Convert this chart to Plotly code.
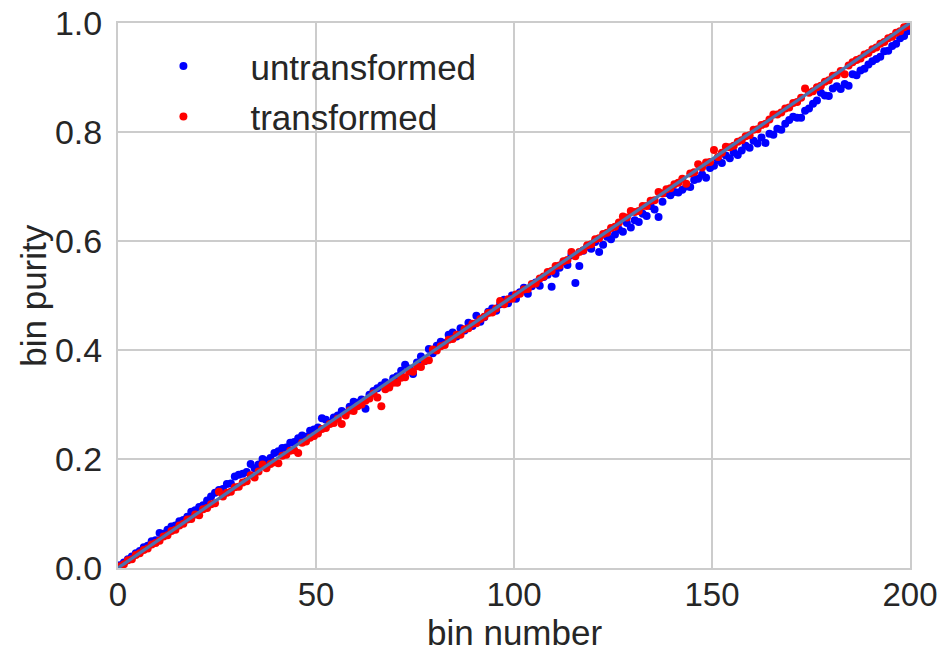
import plotly.graph_objects as go

# bin centres 0.5 ... 199.5
bins = [i + 0.5 for i in range(200)]

untransformed = [
    0.005, 0.010, 0.016, 0.021, 0.027, 0.031, 0.038, 0.041, 0.049, 0.051,
    0.064, 0.063, 0.070, 0.076, 0.078, 0.086, 0.088, 0.094, 0.103, 0.106,
    0.112, 0.115, 0.124, 0.131, 0.138, 0.143, 0.145, 0.154, 0.155, 0.168,
    0.171, 0.173, 0.176, 0.191, 0.183, 0.190, 0.200, 0.197, 0.202, 0.211,
    0.214, 0.220, 0.221, 0.230, 0.231, 0.238, 0.243, 0.241, 0.252, 0.254,
    0.258, 0.275, 0.272, 0.266, 0.276, 0.280, 0.288, 0.285, 0.296, 0.305,
    0.303, 0.309, 0.292, 0.318, 0.325, 0.330, 0.335, 0.341, 0.337, 0.348,
    0.352, 0.362, 0.373, 0.366, 0.356, 0.377, 0.388, 0.380, 0.402, 0.394,
    0.408, 0.415, 0.413, 0.428, 0.432, 0.425, 0.440, 0.436, 0.450, 0.444,
    0.463, 0.452, 0.460, 0.470, 0.476, 0.472, 0.484, 0.492, 0.486, 0.500,
    0.494, 0.506, 0.514, 0.503, 0.517, 0.524, 0.518, 0.534, 0.538, 0.516,
    0.540, 0.551, 0.562, 0.556, 0.574, 0.523, 0.554, 0.582, 0.590, 0.586,
    0.598, 0.580, 0.593, 0.608, 0.603, 0.612, 0.621, 0.617, 0.633, 0.625,
    0.638, 0.635, 0.650, 0.646, 0.664, 0.658, 0.644, 0.672, 0.688, 0.684,
    0.690, 0.689, 0.694, 0.700, 0.699, 0.712, 0.714, 0.722, 0.716, 0.734,
    0.738, 0.748, 0.743, 0.757, 0.752, 0.763, 0.758, 0.766, 0.775, 0.771,
    0.784, 0.779, 0.790, 0.780, 0.797, 0.795, 0.806, 0.804, 0.815, 0.822,
    0.828, 0.826, 0.826, 0.839, 0.843, 0.852, 0.858, 0.872, 0.867, 0.866,
    0.880, 0.884, 0.879, 0.888, 0.885, 0.906, 0.904, 0.913, 0.916, 0.924,
    0.930, 0.934, 0.938, 0.948, 0.949, 0.958, 0.962, 0.972, 0.976, 0.985,
]

transformed = [
    0.003, 0.007, 0.014, 0.016, 0.024, 0.027, 0.033, 0.036, 0.043, 0.046,
    0.050, 0.058, 0.060, 0.068, 0.070, 0.078, 0.081, 0.089, 0.090, 0.098,
    0.097, 0.108, 0.110, 0.117, 0.119, 0.140, 0.131, 0.138, 0.140, 0.148,
    0.149, 0.157, 0.159, 0.170, 0.166, 0.177, 0.190, 0.183, 0.191, 0.194,
    0.192, 0.206, 0.208, 0.215, 0.216, 0.211, 0.230, 0.232, 0.239, 0.242,
    0.247, 0.255, 0.257, 0.264, 0.266, 0.274, 0.264, 0.280, 0.289, 0.288,
    0.297, 0.300, 0.307, 0.311, 0.320, 0.313, 0.297, 0.328, 0.331, 0.340,
    0.340, 0.349, 0.350, 0.361, 0.360, 0.370, 0.369, 0.380, 0.381, 0.401,
    0.399, 0.407, 0.409, 0.419, 0.420, 0.428, 0.428, 0.438, 0.440, 0.448,
    0.449, 0.457, 0.461, 0.468, 0.469, 0.476, 0.490, 0.484, 0.493, 0.494,
    0.502, 0.503, 0.511, 0.512, 0.521, 0.522, 0.531, 0.535, 0.543, 0.545,
    0.554, 0.555, 0.563, 0.565, 0.580, 0.572, 0.580, 0.583, 0.592, 0.594,
    0.603, 0.605, 0.613, 0.615, 0.624, 0.626, 0.634, 0.645, 0.643, 0.655,
    0.653, 0.655, 0.664, 0.664, 0.674, 0.675, 0.690, 0.687, 0.695, 0.697,
    0.704, 0.707, 0.714, 0.705, 0.724, 0.726, 0.741, 0.735, 0.744, 0.745,
    0.767, 0.754, 0.762, 0.773, 0.772, 0.775, 0.782, 0.785, 0.792, 0.794,
    0.804, 0.805, 0.813, 0.815, 0.823, 0.832, 0.832, 0.836, 0.843, 0.845,
    0.853, 0.855, 0.863, 0.880, 0.872, 0.875, 0.882, 0.885, 0.892, 0.895,
    0.903, 0.904, 0.912, 0.906, 0.922, 0.928, 0.932, 0.935, 0.942, 0.945,
    0.952, 0.955, 0.962, 0.965, 0.972, 0.975, 0.982, 0.985, 0.992, 0.995,
]

# ideal purity: straight line from (0, 0) to (200, 1)
ideal_x = [0, 200]
ideal_y = [0.0, 1.0]

x_ticks = [0, 50, 100, 150, 200]
y_ticks = [0.0, 0.2, 0.4, 0.6, 0.8, 1.0]

FONT = "Liberation Sans, Arial, sans-serif"
TEXT = "#262626"
GRID = "#cccccc"

fig = go.Figure()
fig.add_trace(go.Scatter(
    x=bins, y=untransformed, mode="markers", name="untransformed",
    legendgroup="u",
    marker=dict(color="#0000ff", size=8, line=dict(width=0)),
))
fig.add_trace(go.Scatter(
    x=bins, y=transformed, mode="markers", name="transformed",
    legendgroup="t",
    marker=dict(color="#ff0000", size=8, line=dict(width=0)),
))
fig.add_trace(go.Scatter(
    x=ideal_x, y=ideal_y, mode="lines", showlegend=False,
    line=dict(color="#4c72b0", width=3.2),
))

axis_common = dict(
    showgrid=True, gridcolor=GRID, gridwidth=1.5,
    showline=True, linecolor=GRID, linewidth=2, mirror=True,
    zeroline=False, ticks="", automargin=False,
)

title_font = dict(family=FONT, size=35, color=TEXT)

fig.update_layout(
    width=942, height=654,
    margin=dict(l=118, r=32, t=23, b=86),
    paper_bgcolor="white", plot_bgcolor="white",
    font=dict(family=FONT, color=TEXT),
    xaxis=dict(
        range=[0, 200], tickvals=x_ticks, ticklabelstandoff=-4,
        tickfont=dict(family=FONT, size=33, color=TEXT),
        **axis_common,
    ),
    yaxis=dict(
        range=[0, 1], tickvals=y_ticks, tickformat=".1f", ticklabelstandoff=7,
        tickfont=dict(family=FONT, size=34, color=TEXT),
        **axis_common,
    ),
    legend=dict(
        x=-0.002, y=0.975, xanchor="left", yanchor="top",
        bgcolor="rgba(0,0,0,0)", borderwidth=0,
        font=dict(family=FONT, size=35, color=TEXT),
        itemwidth=124, tracegroupgap=2,
    ),
    annotations=[
        dict(text="bin number", xref="paper", yref="paper", x=0.5, y=-0.119,
             xanchor="center", yanchor="middle", showarrow=False, borderpad=0,
             font=title_font),
        dict(text="bin purity", xref="paper", yref="paper", x=-0.107, y=0.5,
             xanchor="center", yanchor="middle", textangle=-90, showarrow=False,
             borderpad=0, font=title_font),
    ],
)

fig.write_html("out.html")
